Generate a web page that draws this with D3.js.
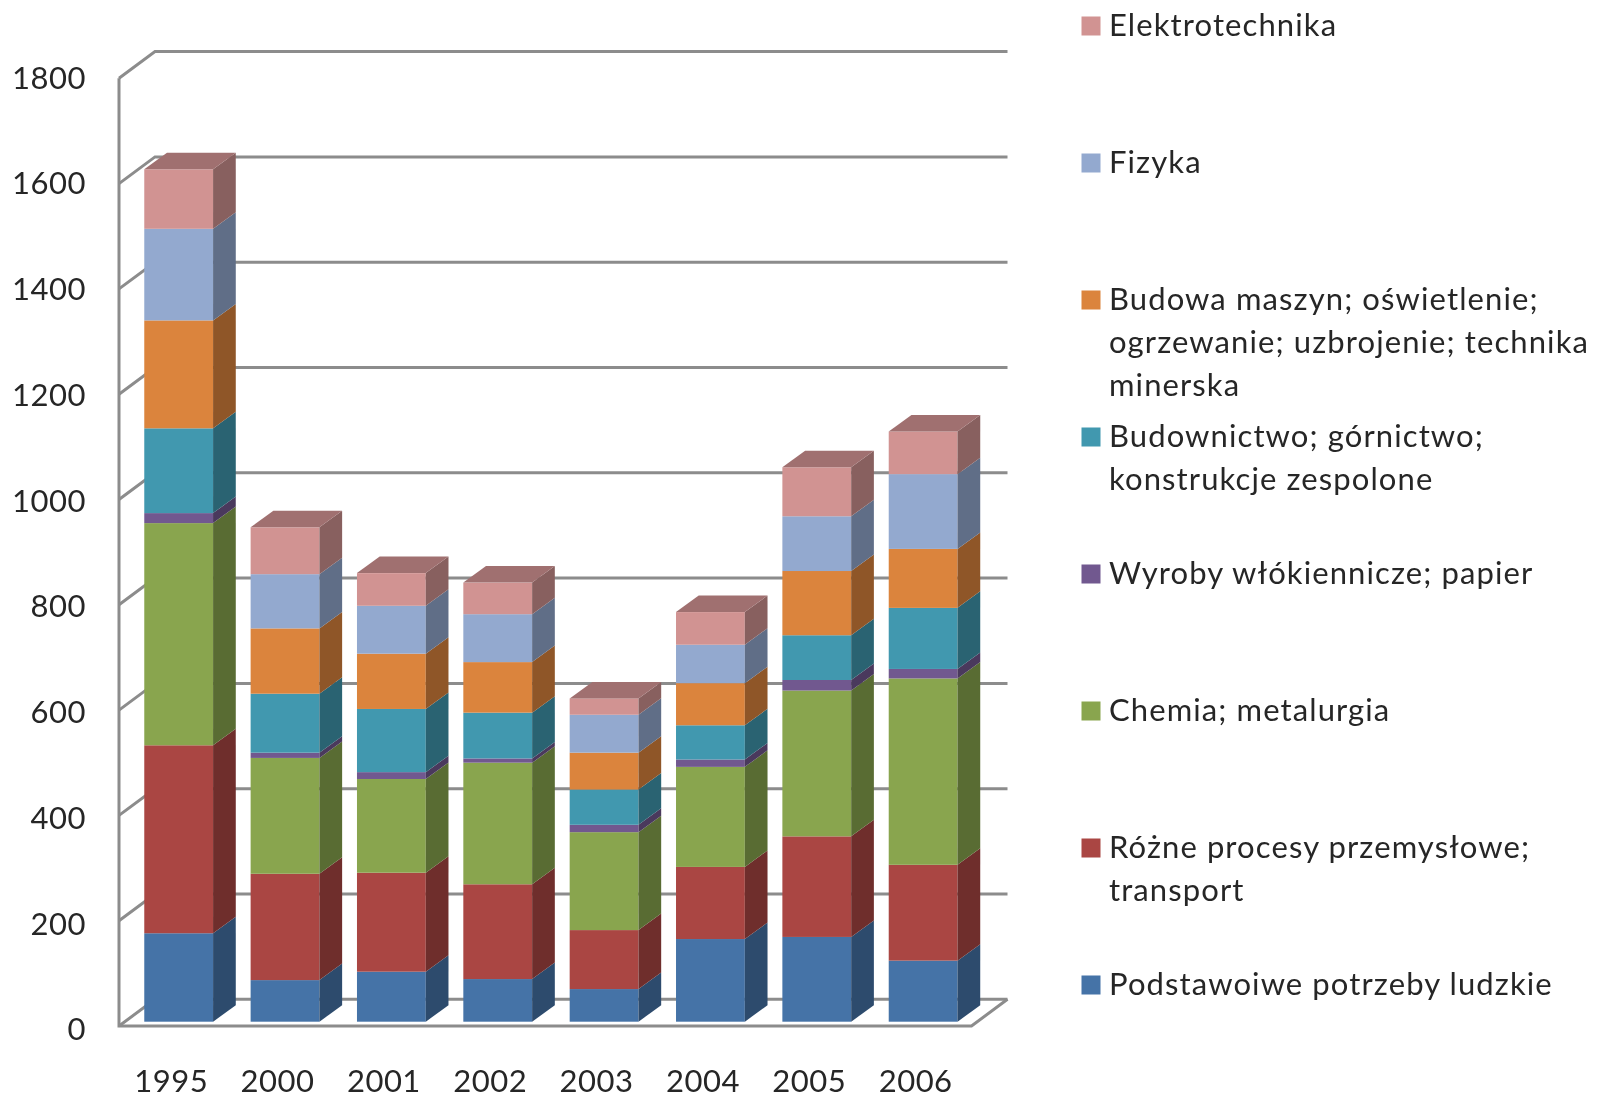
<!DOCTYPE html>
<html lang="pl">
<head>
    <meta charset="UTF-8">
    <title>Stacked 3D columns</title>
    <script src="https://d3js.org/d3.v7.min.js"></script>
    <style>
        body { margin: 0; background: #fff; }
        svg { display: block; filter: blur(0.5px); }
        text { font-family: Lato, "Open Sans", sans-serif; fill: #262626; }
    </style>
</head>
<body>
    <svg id="chart" width="1599" height="1099"></svg>
    <script>
        var years = ["1995", "2000", "2001", "2002", "2003", "2004", "2005", "2006"];
        var yTicks = [0, 200, 400, 600, 800, 1000, 1200, 1400, 1600, 1800];

        // bottom to top of the stack
        var seriesNames = ["Podstawowe potrzeby ludzkie", "Różne procesy przemysłowe; transport", "Chemia; metalurgia",
            "Wyroby włókiennicze; papier", "Budownictwo; górnictwo; konstrukcje zespolone",
            "Budowa maszyn; oświetlenie; ogrzewanie; uzbrojenie; technika minerska", "Fizyka", "Elektrotechnika"];
        var seriesColors = ["#4573a7", "#aa4643", "#89a54e", "#71588f", "#4198af", "#db843d", "#93a9cf", "#d19392"];

        var podstawowe = [168, 79, 95, 81, 62, 157, 161, 116];
        var rozne = [357, 202, 188, 180, 112, 137, 191, 182];
        var chemia = [422, 220, 178, 231, 186, 190, 277, 354];
        var wyroby = [19, 10, 13, 8, 14, 14, 20, 18];
        var budownictwo = [161, 112, 120, 87, 67, 65, 85, 116];
        var budowa = [205, 124, 105, 96, 70, 80, 122, 112];
        var fizyka = [174, 103, 91, 91, 72, 73, 104, 142];
        var elektro = [113, 89, 62, 60, 31, 62, 93, 81];

        // legend wrapping, same order as seriesNames
        var legendLines = [["Podstawoiwe potrzeby ludzkie"], ["Różne procesy przemysłowe;", "transport"], ["Chemia; metalurgia"],
            ["Wyroby włókiennicze; papier"], ["Budownictwo; górnictwo;", "konstrukcje zespolone"],
            ["Budowa maszyn; oświetlenie;", "ogrzewanie; uzbrojenie; technika", "minerska"], ["Fizyka"], ["Elektrotechnika"]];

        var allSeries = [podstawowe, rozne, chemia, wyroby, budownictwo, budowa, fizyka, elektro];
        var table = years.map(function(y, i) {
            var row = { year: y };
            seriesNames.forEach(function(s, j) { row[s] = allSeries[j][i]; });
            return row;
        });

        var svg = d3.select("#chart");

        var fontSize = 31;
        var left = 119, right = 971.5, floorY = 1026, topY = 78.3;
        var wallDx = 36, wallDy = -26.7;    // depth of the chart box
        var barDx = 22.7, barDy = -16.5;    // depth of one column
        var barShiftX = 6.5, barShiftY = -4.3; // columns stand a bit inside the box
        var barStep = 106.35;

        var y = d3.scaleLinear().domain([0, 1800]).range([floorY, topY]);
        // tick labels sit on a slightly longer run than the gridlines
        var yLabels = d3.scaleLinear().domain([0, 1800]).range([floorY + 4, topY]);
        var xAxisScale = d3.scaleBand().domain(years).range([left - 1, left - 1 + barStep * years.length]);
        var x = d3.scaleBand().domain(years)
            .range([left + barShiftX, left + barShiftX + barStep * years.length])
            .paddingInner(0.353).paddingOuter(0.1765);

        var color = d3.scaleOrdinal().domain(seriesNames).range(seriesColors);
        var stack = d3.stack().keys(seriesNames)(table);

        // walls and gridlines
        var grid = svg.append("g").attr("fill", "none").attr("stroke", "#8c8c8c").attr("stroke-width", 3);
        yTicks.forEach(function(t) {
            grid.append("path").attr("d", d3.line()([
                [left, y(t)], [left + wallDx, y(t) + wallDy], [right + wallDx, y(t) + wallDy]
            ]));
        });
        grid.append("path").attr("d", d3.line()([[left, y(1800)], [left, floorY], [right, floorY], [right + wallDx, floorY + wallDy]]));

        // columns
        var layers = svg.selectAll("g.layer")
            .data(stack)
            .enter().append("g")
            .attr("class", "layer");

        function poly(pts) { return d3.line()(pts) + "Z"; }

        layers.selectAll("rect")
            .data(function(d) { return d.map(function(p) { return { key: d.key, p: p }; }); })
            .enter().append("rect")
            .attr("x", function(d) { return x(d.p.data.year); })
            .attr("y", function(d) { return y(d.p[1]) + barShiftY; })
            .attr("width", x.bandwidth())
            .attr("height", function(d) { return y(d.p[0]) - y(d.p[1]); })
            .attr("fill", function(d) { return color(d.key); });

        layers.selectAll("path.side")
            .data(function(d) { return d.map(function(p) { return { key: d.key, p: p }; }); })
            .enter().append("path")
            .attr("class", "side")
            .attr("fill", function(d) { return d3.rgb(color(d.key)).darker(1.2); })
            .attr("d", function(d) {
                var xr = x(d.p.data.year) + x.bandwidth();
                var y0 = y(d.p[0]) + barShiftY, y1 = y(d.p[1]) + barShiftY;
                return poly([[xr, y0], [xr + barDx, y0 + barDy], [xr + barDx, y1 + barDy], [xr, y1]]);
            });

        // tops, only the last series shows one
        svg.append("g").selectAll("path")
            .data(stack[stack.length - 1])
            .enter().append("path")
            .attr("fill", d3.rgb(seriesColors[7]).darker(0.75))
            .attr("d", function(d) {
                var xl = x(d.data.year), xr = xl + x.bandwidth();
                var yt = y(d[1]) + barShiftY;
                return poly([[xl, yt], [xr, yt], [xr + barDx, yt + barDy], [xl + barDx, yt + barDy]]);
            });

        // axes
        var yAxis = d3.axisLeft(yLabels).tickValues(yTicks).tickSize(0).tickPadding(33).tickFormat(d3.format("d"));
        var yG = svg.append("g").attr("transform", "translate(" + left + ",0)").call(yAxis);
        yG.select(".domain").remove();
        yG.selectAll("text").style("font-size", fontSize + "px").style("letter-spacing", "0.5px");

        var xAxis = d3.axisBottom(xAxisScale).tickSize(0).tickPadding(44);
        var xG = svg.append("g").attr("transform", "translate(0," + floorY + ")").call(xAxis);
        xG.select(".domain").remove();
        xG.selectAll("text").style("font-size", fontSize + "px").style("letter-spacing", "0.5px");

        // legend
        var legendY = d3.scalePoint().domain(seriesNames).range([985, 26]);
        var legend = svg.selectAll("g.legend")
            .data(seriesNames)
            .enter().append("g")
            .attr("class", "legend")
            .attr("transform", function(d) { return "translate(1081.5," + legendY(d) + ")"; });

        legend.append("rect")
            .attr("y", -9.5)
            .attr("width", 19)
            .attr("height", 19)
            .attr("fill", function(d) { return color(d); });

        legend.each(function(d, i) {
            d3.select(this).selectAll("text")
                .data(legendLines[i])
                .enter().append("text")
                .attr("x", 27.5)
                .attr("y", function(l, k) { return k * 43 - 1; })
                .attr("dy", "0.35em")
                .style("font-size", fontSize + "px")
                .style("letter-spacing", "1.1px")
                .text(function(l) { return l; });
        });
    </script>
</body>
</html>
